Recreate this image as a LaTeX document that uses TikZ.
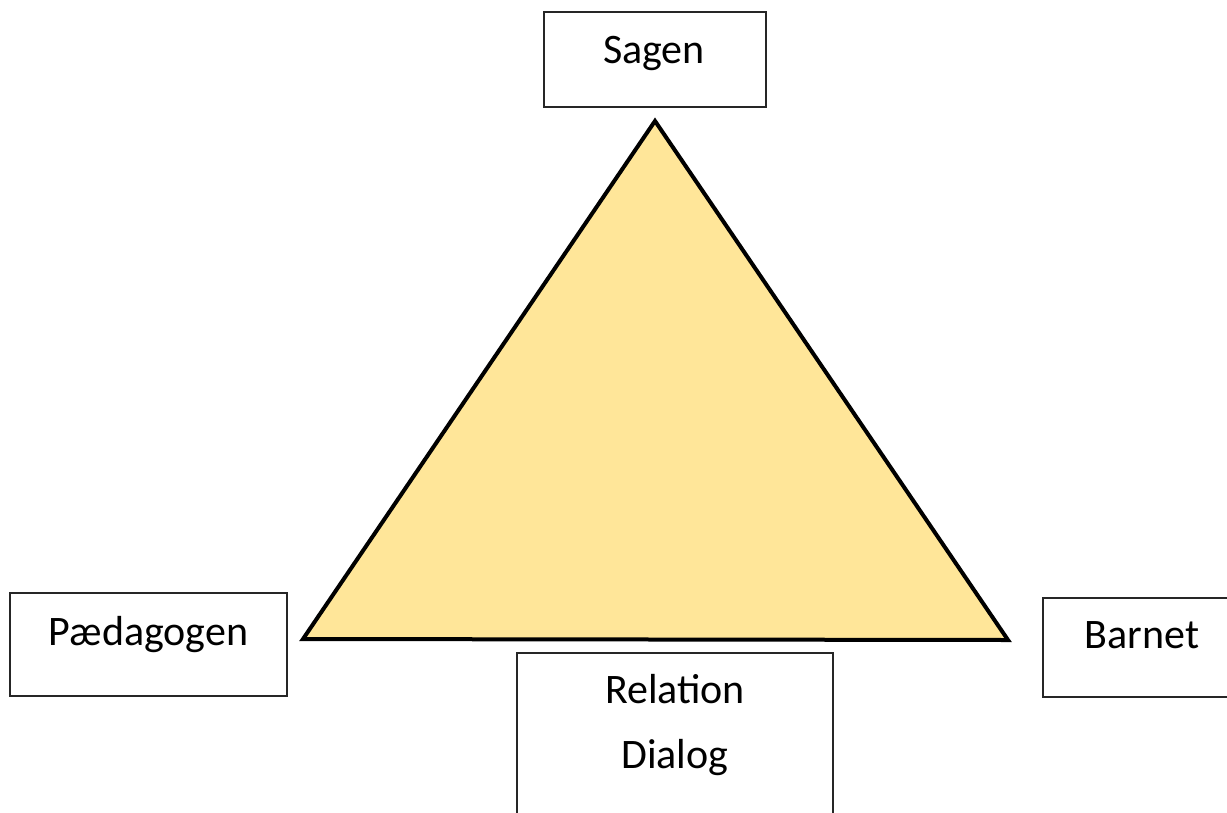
\documentclass[tikz,border=0pt]{standalone}
\usepackage{fontspec}
\setmainfont{Carlito}
\begin{document}
\begin{tikzpicture}[x=1pt,y=-1pt,
  box/.style={draw=black!85, line width=1.1pt, fill=white, rectangle, inner sep=0pt},
  lbl/.style={anchor=base, inner sep=0pt, font=\fontsize{42}{50}\selectfont},
  tri/.style={draw=black, line width=4pt, fill=triyellow, line join=miter}]
\definecolor{triyellow}{HTML}{FFE699}
\useasboundingbox (0,0) rectangle (1227,812);
\clip (0,0) rectangle (1227,812);

% central triangle
\coordinate (top) at (655,121);
\coordinate (left) at (303,639);
\coordinate (right) at (1008,640);
\draw[tri] (top) -- (left) -- (right) -- cycle;

% corner boxes
\node[box, minimum width=222pt, minimum height=95pt] (sagenbox) at (655,59.5) {};
\node[lbl] (sagen) at (654,63.5) {Sagen};

\node[box, minimum width=277pt, minimum height=103pt] (paedbox) at (148.5,644.5) {};
\node[lbl] (paed) at (148.5,645.5) {Pædagogen};

\node[box, minimum width=198pt, minimum height=99pt] (barnbox) at (1142,647.5) {};
\node[lbl] (barn) at (1142,648.5) {Barnet};

\node[box, minimum width=316pt, minimum height=180pt] (relbox) at (675,743) {};
\node[lbl] (rel) at (675,703.5) {Relation};
\node[lbl] (dia) at (675,768.5) {Dialog};
\end{tikzpicture}
\end{document}
